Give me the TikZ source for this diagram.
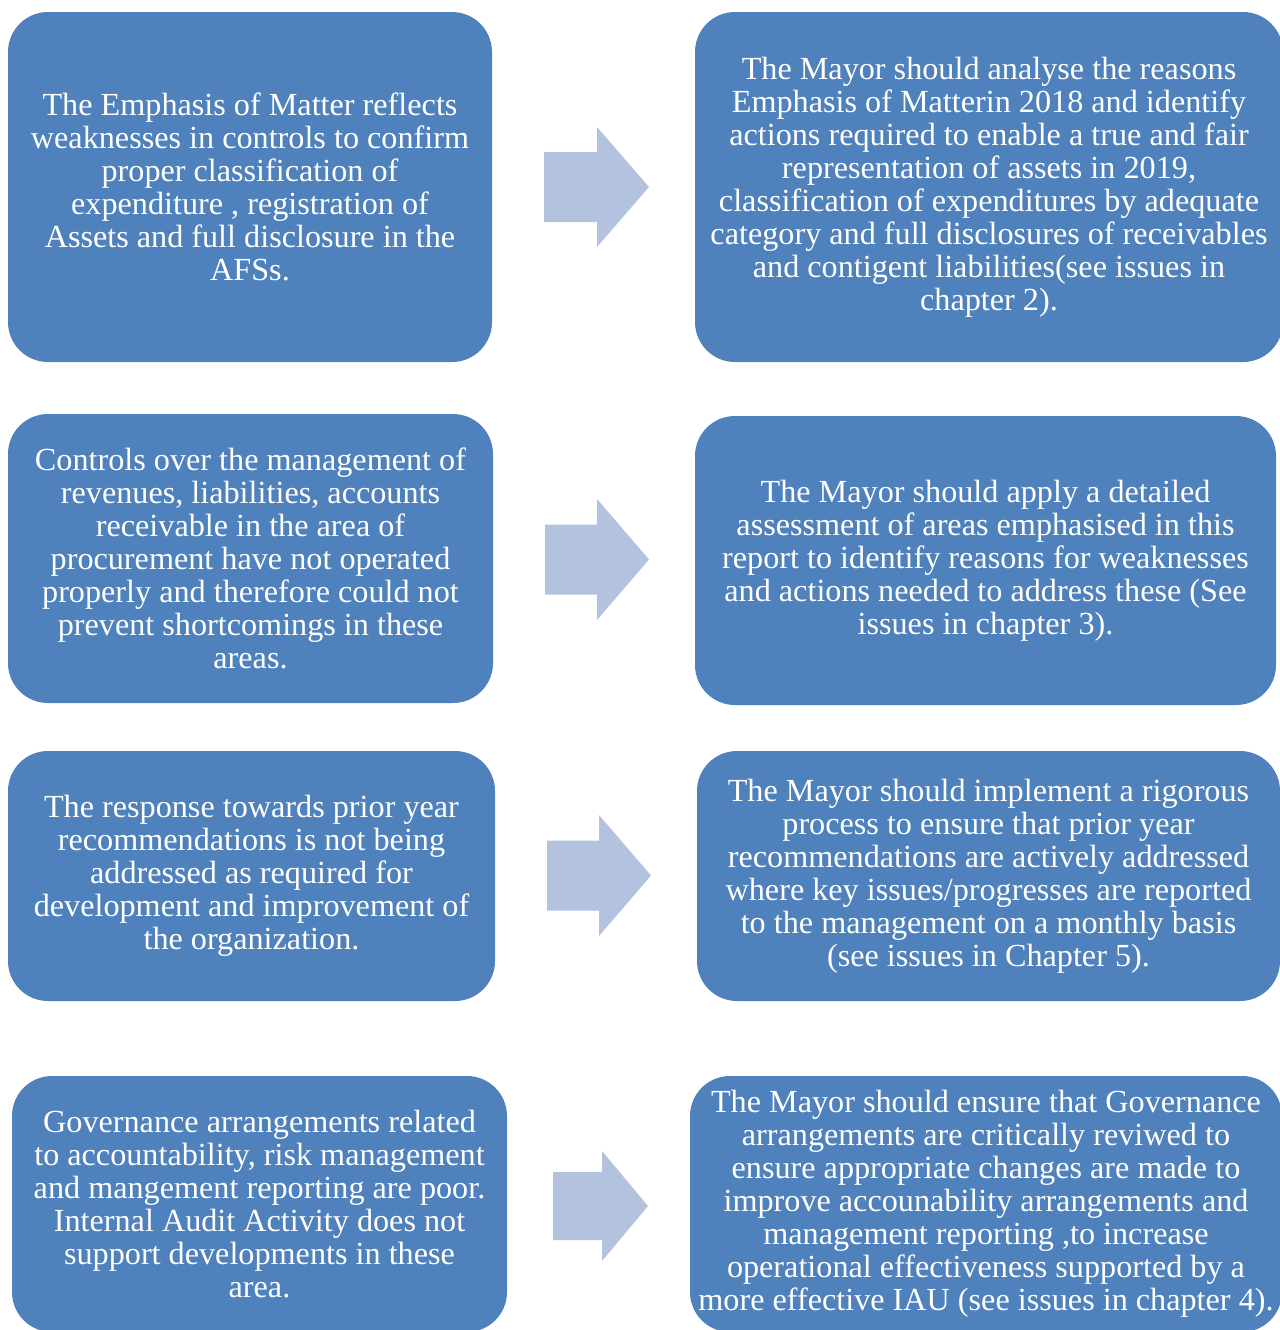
\documentclass[tikz,border=0pt]{standalone}
\usepackage{fontspec}
\setmainfont{Liberation Serif}
\usetikzlibrary{positioning, calc}

\definecolor{boxblue}{HTML}{4F81BD}
\definecolor{arrowblue}{HTML}{B3C2DE}

\begin{document}
\begin{tikzpicture}[
  x=0.5pt, y=-0.5pt,
  % Node Styles
  finding/.style={rectangle, rounded corners=20pt, fill=boxblue, text=white, align=center, inner sep=0pt, font=\fontsize{16.1}{16.5}\selectfont},
  % Arrow Styles
  blockarrow/.style={fill=arrowblue}
]
\useasboundingbox (0,0) rectangle (1280,1330);

% Left column: findings
\node[finding, minimum width=242pt, minimum height=175pt] (EmphMatter) at (250,187) {The Emphasis of Matter reflects\\ weaknesses in controls to confirm\\ proper classification of\\ expenditure , registration of\\ Assets and full disclosure in the\\ AFSs.};
\node[finding, minimum width=242.5pt, minimum height=144.5pt] (Controls) at (250.5,558.5) {Controls over the management of\\ revenues, liabilities, accounts\\ receivable in the area of\\ procurement have not operated\\ properly and therefore could not\\ prevent shortcomings in these\\ areas.};
\node[finding, minimum width=243.5pt, minimum height=125pt] (PriorYear) at (251.5,876) {The response towards prior year\\ recommendations is not being\\ addressed as required for\\ development and improvement of\\ the organization.};
\node[finding, minimum width=247.5pt, minimum height=128pt] (Governance) at (259.5,1204) {Governance arrangements related\\ to accountability, risk management\\ and mangement reporting are poor.\\ Internal Audit Activity does not\\ support developments in these\\ area.};

% Right column: recommendations
\node[finding, minimum width=294pt, minimum height=175pt] (RecEmph) at (989,187) {The Mayor should analyse the reasons\\ Emphasis of Matterin 2018 and identify\\ actions required to enable a true and fair\\ representation of assets in 2019,\\ classification of expenditures by adequate\\ category and full disclosures of receivables\\ and contigent liabilities(see issues in\\ chapter 2).};
\node[finding, minimum width=290.5pt, minimum height=144.5pt] (RecControls) at (985.5,560.5) {The Mayor should apply a detailed\\ assessment of areas emphasised in this\\ report to identify reasons for weaknesses\\ and actions needed to address these (See\\ issues in chapter 3).};
\node[finding, minimum width=291.5pt, minimum height=125pt] (RecPrior) at (988.5,876) {The Mayor should implement a rigorous\\ process to ensure that prior year\\ recommendations are actively addressed\\ where key issues/progresses are reported\\ to the management on a monthly basis\\ (see issues in Chapter 5).};
\node[finding, minimum width=296pt, minimum height=128pt] (RecGov) at (986,1204) {The Mayor should ensure that Governance\\ arrangements are critically reviwed to\\ ensure appropriate changes are made to\\ improve accounability arrangements and\\ management reporting ,to increase\\ operational effectiveness supported by a\\ more effective IAU (see issues in chapter 4).};

% Block arrows between the columns (tail x, centre y, length, head start, half shaft, half head)
\foreach \ax/\ay/\al/\ah/\as/\aw in {544/187/105/53/35/60, 545/559.5/104/52/35/60.5, 547/875.5/104/52/35/60.5, 553/1206/95/49/34/55}{
  \fill[blockarrow] (\ax,\ay-\as) -- ++(\ah,0) -- ++(0,\as-\aw) -- (\ax+\al,\ay) -- (\ax+\ah,\ay+\aw) -- ++(0,\as-\aw) -- (\ax,\ay+\as) -- cycle;
}

\end{tikzpicture}
\end{document}
